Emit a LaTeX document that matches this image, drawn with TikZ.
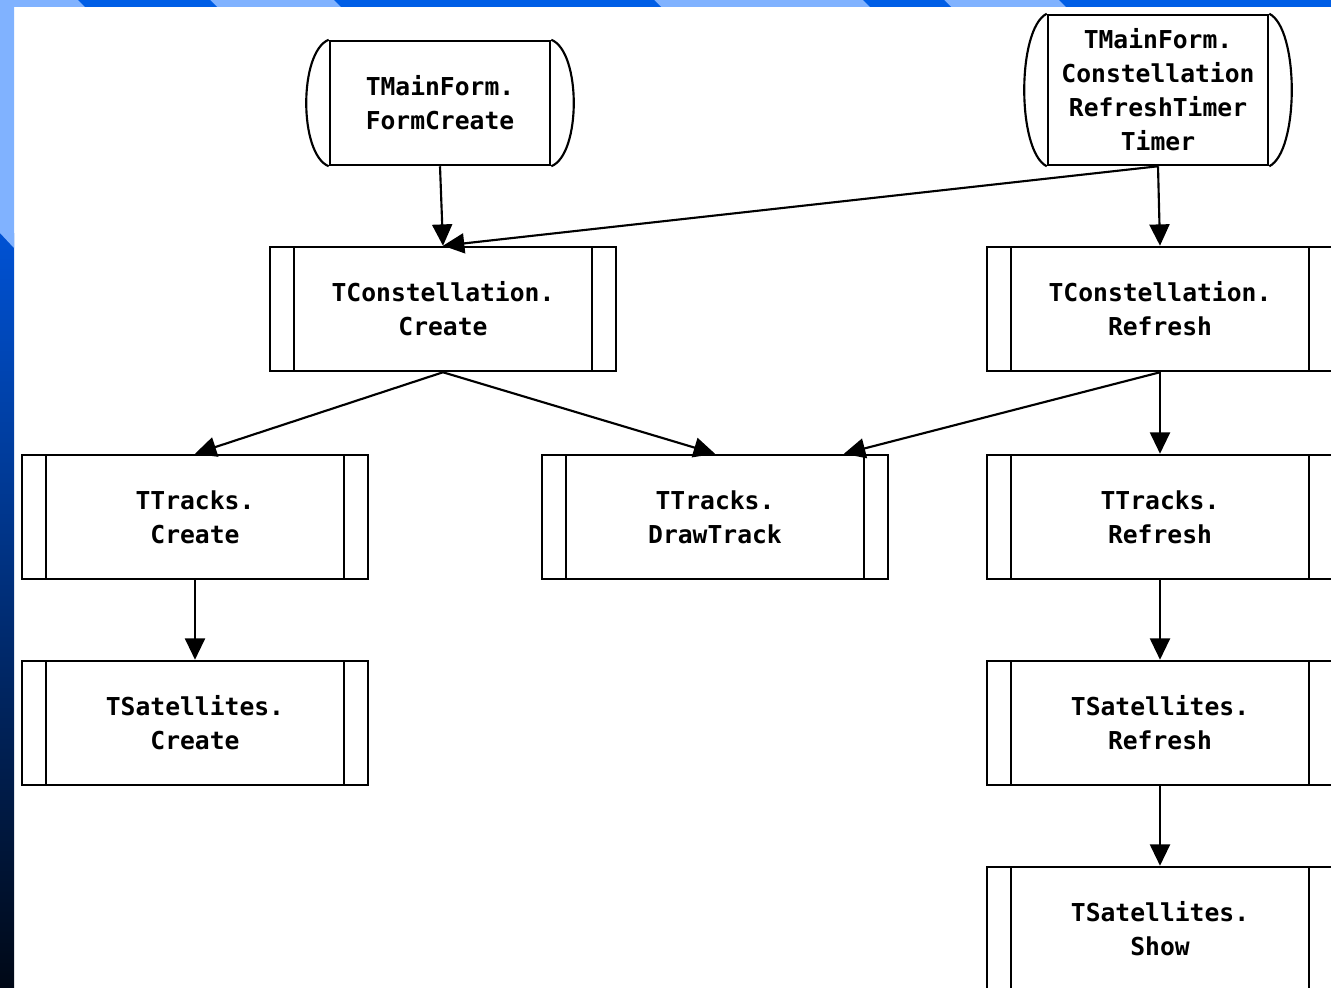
\documentclass[tikz,border=0pt]{standalone}
\usepackage{fontspec}
\usetikzlibrary{arrows.meta}
\newfontfamily\boxfont{DejaVu Sans Mono}

\definecolor{barlight}{RGB}{128,178,255}
\definecolor{bardark}{RGB}{0,94,230}
\definecolor{bartop}{RGB}{0,82,212}
\definecolor{barbottom}{RGB}{0,8,22}

\tikzset{
  procbox/.style={draw, line width=1.9pt, minimum width=259.5pt, minimum height=93pt,
    align=center, inner sep=0pt,
    font=\boxfont\bfseries\fontsize{18.5}{25.5}\selectfont,
    path picture={
      \draw[line width=1.9pt] ([xshift=18pt]path picture bounding box.north west) -- ([xshift=18pt]path picture bounding box.south west);
      \draw[line width=1.9pt] ([xshift=-18pt]path picture bounding box.north east) -- ([xshift=-18pt]path picture bounding box.south east);
    }},
  termbox/.style={draw, line width=1.9pt, minimum width=165pt, align=center, inner sep=0pt,
    font=\boxfont\bfseries\fontsize{18.5}{25.5}\selectfont},
  flow/.style={-{Triangle[length=16pt,width=15pt]}, line width=1.6pt}
}

\begin{document}
\begin{tikzpicture}[x=0.75pt,y=-0.75pt]
\clip (0,0) rectangle (1331,988);
\fill[white] (0,0) rectangle (1331,988);

% frame bars
\shade[top color=bartop, bottom color=barbottom] (0,233) rectangle (14,988);
\fill[barlight] (0,0) -- (14,0) -- (14,248) -- (0,233) -- cycle;
\fill[barlight] (0,0) rectangle (1331,7);
\foreach \a/\b in {78/210, 334/654, 863/944, 1059/1340}
  \fill[bardark] (\a,0) -- (\b,0) -- (\b+7,7) -- (\a+7,7) -- cycle;

% start events
\node[termbox, minimum height=93pt] (fc) at (440,103) {TMainForm.\\FormCreate};
\node[termbox, minimum height=112.5pt] (tmr) at (1158,90) {TMainForm.\\Constellation\\RefreshTimer\\Timer};
\draw[line width=1.6pt] (fc.north west) .. controls +(-30,12) and +(-30,-12) .. (fc.south west);
\draw[line width=1.6pt] (fc.north east) .. controls +(30,12) and +(30,-12) .. (fc.south east);
\draw[line width=1.6pt] (tmr.north west) .. controls +(-30,15) and +(-30,-15) .. (tmr.south west);
\draw[line width=1.6pt] (tmr.north east) .. controls +(30,15) and +(30,-15) .. (tmr.south east);

% procedures
\node[procbox] (ccreate) at (443,309) {TConstellation.\\Create};
\node[procbox] (crefresh) at (1160,309) {TConstellation.\\Refresh};
\node[procbox] (tcreate) at (195,517) {TTracks.\\Create};
\node[procbox] (tdraw) at (715,517) {TTracks.\\DrawTrack};
\node[procbox] (trefresh) at (1160,517) {TTracks.\\Refresh};
\node[procbox] (screate) at (195,723) {TSatellites.\\Create};
\node[procbox] (srefresh) at (1160,723) {TSatellites.\\Refresh};
\node[procbox] (sshow) at (1160,929) {TSatellites.\\Show};

\draw[flow] (fc.south) -- (ccreate.north);
\draw[flow] (tmr.south) -- (ccreate.north);
\draw[flow] (tmr.south) -- (crefresh.north);
\draw[flow] (ccreate.south) -- (tcreate.north);
\draw[flow] (ccreate.south) -- (tdraw.north);
\draw[flow] (crefresh.south) -- ([xshift=-34pt]tdraw.north east);
\draw[flow] (crefresh.south) -- (trefresh.north);
\draw[flow] (tcreate.south) -- (screate.north);
\draw[flow] (trefresh.south) -- (srefresh.north);
\draw[flow] (srefresh.south) -- (sshow.north);
\end{tikzpicture}
\end{document}
